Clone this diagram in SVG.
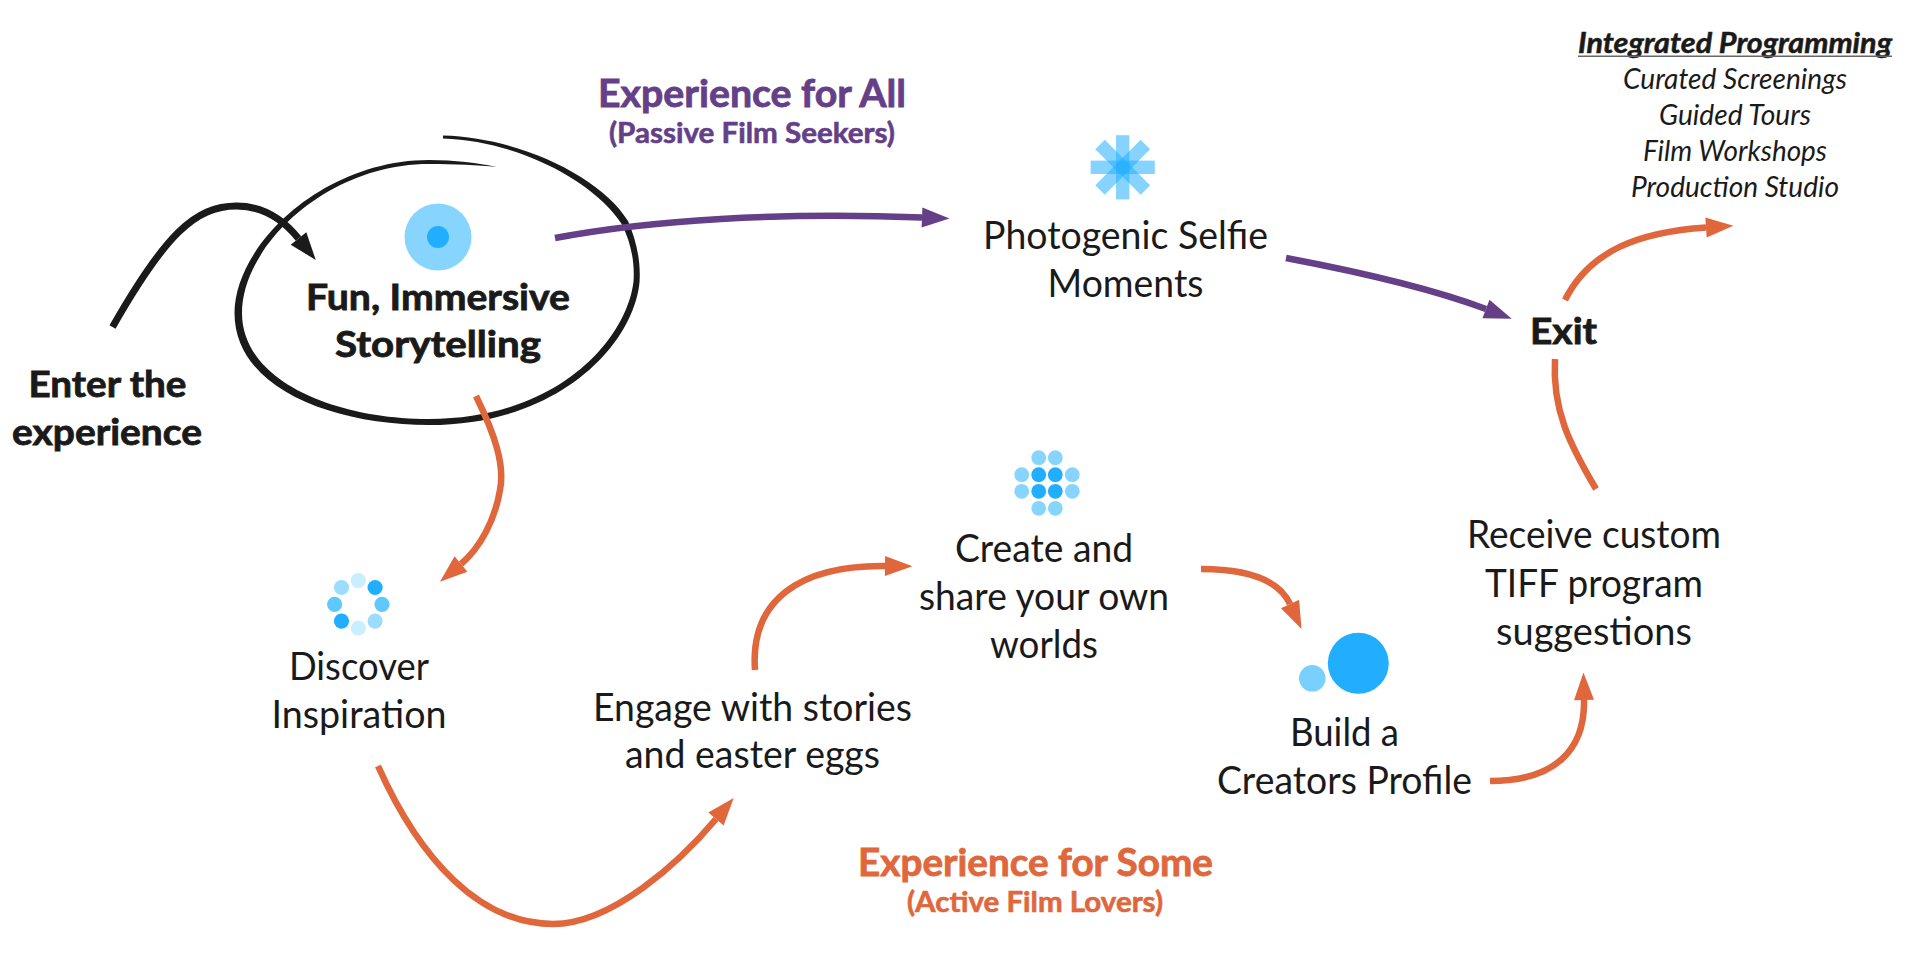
<svg xmlns="http://www.w3.org/2000/svg" width="1906" height="964" viewBox="0 0 1906 964">
<style>
text{font-family:"Lato","Noto Sans","Liberation Sans",sans-serif;text-anchor:middle;fill:#1a1a1a}
.b{font-size:38px}
.s{font-size:36px;font-weight:700;stroke:#1a1a1a;stroke-width:.8px}
.h{font-size:38px;font-weight:700;stroke-width:.8px}
.u{font-size:28px;font-weight:700;stroke-width:.6px}
.i{font-size:28px;font-style:italic}
.ib{font-size:28px;font-style:italic;font-weight:700;stroke:#1a1a1a;stroke-width:.5px}
.or{fill:#e0673c;stroke:#e0673c}
.pu{fill:#653f87;stroke:#653f87}
.c{fill:none;stroke-width:6.5}
.co{stroke:#e0673c}
.cp{stroke:#653f87}
.ck{stroke:#1a1a1a;stroke-width:7}
.l{fill:#87d5ff}
.d{fill:#22aeff}
</style>
<defs>
<marker id="ao" markerUnits="userSpaceOnUse" markerWidth="30" markerHeight="24" refX="0" refY="12" orient="auto" overflow="visible"><path d="M0,2 L27.5,12 L0,22 Z" fill="#e0673c"/></marker>
<marker id="ap" markerUnits="userSpaceOnUse" markerWidth="30" markerHeight="24" refX="0" refY="12" orient="auto" overflow="visible"><path d="M0,2 L27.5,12 L0,22 Z" fill="#653f87"/></marker>
<marker id="ak" markerUnits="userSpaceOnUse" markerWidth="30" markerHeight="24" refX="0" refY="12" orient="auto" overflow="visible"><path d="M0,2 L27.5,12 L0,22 Z" fill="#1a1a1a"/></marker>
</defs>
<rect width="1906" height="964" fill="#fff"/>
<g id="storytelling">
<path fill="#1a1a1a" d="M443,135.5 C520,137.5 601,177 628,221 C636,240 641,260 639.5,282.5 C633.5,343 561,425 429,425 C332,425 234.5,388 234.5,313 C235,244 324,160 429,160 C455,160 478,163 497,167 C478,165 455,164 429,164 C327,164 242,246 242,313 C242,382 337,419 429,419 C559,419 627,338 633.5,281.5 C635,260 630,241 622,224.5 C596,183 520,141 443,138.5 Z"/>
<ellipse class="l" cx="438" cy="237" rx="33.5" ry="33.5"/>
<circle class="d" cx="438" cy="237" r="11"/>
<text class="s" x="438" y="310" textLength="264" lengthAdjust="spacingAndGlyphs">Fun, Immersive</text>
<text class="s" x="438" y="357" textLength="206" lengthAdjust="spacingAndGlyphs">Storytelling</text>
</g>
<g id="connectors">
<path class="c ck" marker-end="url(#ak)" d="M112.5,327 C165,235 195,206 236.6,206 C262,206 282,218 298.5,238.5"/>
<path class="c cp" marker-end="url(#ap)" d="M555,238 C650,220 780,212 922,217.5"/>
<path class="c cp" marker-end="url(#ap)" d="M1286,258 C1360,272 1430,288 1486,309"/>
<path class="c co" marker-end="url(#ao)" d="M476,396 C495,435 505,465 500,490 C495,520 480,548 461,564"/>
<path class="c co" marker-end="url(#ao)" d="M378,766 C420,860 480,924 553,924 C612,924 680,862 716,819"/>
<path class="c co" marker-end="url(#ao)" d="M755,670 C750,600 800,565 885,566"/>
<path class="c co" marker-end="url(#ao)" d="M1201,569 C1245,569 1278,578 1290,604"/>
<path class="c co" marker-end="url(#ao)" d="M1490,781 C1555,781 1585,750 1584,700"/>
<path class="c co" d="M1596,489 C1570,445 1552,410 1555,359"/>
<path class="c co" marker-end="url(#ao)" d="M1565,300 C1590,250 1640,232 1706,227.5"/>
</g>
<g id="enter">
<text class="s" x="107.5" y="397" textLength="158" lengthAdjust="spacingAndGlyphs">Enter the</text>
<text class="s" x="107" y="445" textLength="190" lengthAdjust="spacingAndGlyphs">experience</text>
</g>
<g id="experience-all">
<text class="h pu" x="752" y="107" textLength="308" lengthAdjust="spacingAndGlyphs">Experience for All</text>
<text class="u pu" x="752" y="143" textLength="286" lengthAdjust="spacingAndGlyphs">(Passive Film Seekers)</text>
</g>
<g id="selfie">
<g fill="#22aeff" fill-opacity=".55">
<rect x="1116" y="135.2" width="13.4" height="64.2"/>
<rect x="1116" y="135.2" width="13.4" height="64.2" transform="rotate(45 1122.7 167.3)"/>
<rect x="1116" y="135.2" width="13.4" height="64.2" transform="rotate(90 1122.7 167.3)"/>
<rect x="1116" y="135.2" width="13.4" height="64.2" transform="rotate(135 1122.7 167.3)"/>
</g>
<text class="b" x="1125.5" y="249" textLength="285" lengthAdjust="spacingAndGlyphs">Photogenic Selfie</text>
<text class="b" x="1125.5" y="297" textLength="156" lengthAdjust="spacingAndGlyphs">Moments</text>
</g>
<g id="exit">
<text class="s" x="1563.5" y="344" textLength="67" lengthAdjust="spacingAndGlyphs">Exit</text>
</g>
<g id="programming">
<text class="ib" x="1735" y="52.5" textLength="314" lengthAdjust="spacingAndGlyphs">Integrated Programming</text>
<line x1="1578" y1="56.3" x2="1892" y2="56.3" stroke="#666" stroke-width="1.5"/>
<text class="i" x="1735" y="89" textLength="224" lengthAdjust="spacingAndGlyphs">Curated Screenings</text>
<text class="i" x="1735" y="125" textLength="152" lengthAdjust="spacingAndGlyphs">Guided Tours</text>
<text class="i" x="1735" y="161" textLength="184" lengthAdjust="spacingAndGlyphs">Film Workshops</text>
<text class="i" x="1735" y="197" textLength="208" lengthAdjust="spacingAndGlyphs">Production Studio</text>
</g>
<g id="discover">
<g>
<circle cx="358.3" cy="580.6" r="7.6" fill="#c9eeff"/>
<circle cx="375.1" cy="587.5" r="7.6" class="d"/>
<circle cx="382" cy="604.3" r="7.6" fill="#5fc8ff"/>
<circle cx="375.1" cy="621.1" r="7.6" fill="#9cddff"/>
<circle cx="358.3" cy="628" r="7.6" fill="#c9eeff"/>
<circle cx="341.5" cy="621.1" r="7.6" class="d"/>
<circle cx="334.6" cy="604.3" r="7.6" fill="#5fc8ff"/>
<circle cx="341.5" cy="587.5" r="7.6" fill="#9cddff"/>
</g>
<text class="b" x="359" y="680" textLength="140" lengthAdjust="spacingAndGlyphs">Discover</text>
<text class="b" x="359" y="728" textLength="175" lengthAdjust="spacingAndGlyphs">Inspiration</text>
</g>
<g id="engage">
<text class="b" x="752.5" y="721" textLength="319" lengthAdjust="spacingAndGlyphs">Engage with stories</text>
<text class="b" x="752.5" y="768" textLength="255" lengthAdjust="spacingAndGlyphs">and easter eggs</text>
</g>
<g id="create">
<g class="l">
<circle cx="1038.7" cy="457.7" r="7.4"/><circle cx="1055.3" cy="457.7" r="7.4"/>
<circle cx="1021.7" cy="474.7" r="7.4"/><circle cx="1072.3" cy="474.7" r="7.4"/>
<circle cx="1021.7" cy="491.3" r="7.4"/><circle cx="1072.3" cy="491.3" r="7.4"/>
<circle cx="1038.7" cy="508.3" r="7.4"/><circle cx="1055.3" cy="508.3" r="7.4"/>
</g>
<g class="d">
<circle cx="1038.7" cy="474.7" r="7.4"/><circle cx="1055.3" cy="474.7" r="7.4"/>
<circle cx="1038.7" cy="491.3" r="7.4"/><circle cx="1055.3" cy="491.3" r="7.4"/>
</g>
<text class="b" x="1044" y="562" textLength="178" lengthAdjust="spacingAndGlyphs">Create and</text>
<text class="b" x="1044" y="610" textLength="250" lengthAdjust="spacingAndGlyphs">share your own</text>
<text class="b" x="1044" y="658" textLength="108" lengthAdjust="spacingAndGlyphs">worlds</text>
</g>
<g id="profile">
<circle class="d" cx="1358.3" cy="663.3" r="30.5"/>
<circle cx="1312.3" cy="678.3" r="13.3" fill="#79d0ff"/>
<text class="b" x="1344.5" y="746" textLength="109" lengthAdjust="spacingAndGlyphs">Build a</text>
<text class="b" x="1344.5" y="794" textLength="255" lengthAdjust="spacingAndGlyphs">Creators Profile</text>
</g>
<g id="receive">
<text class="b" x="1594" y="548" textLength="254" lengthAdjust="spacingAndGlyphs">Receive custom</text>
<text class="b" x="1594" y="597" textLength="218" lengthAdjust="spacingAndGlyphs">TIFF program</text>
<text class="b" x="1594" y="645" textLength="196" lengthAdjust="spacingAndGlyphs">suggestions</text>
</g>
<g id="experience-some">
<text class="h or" x="1035.5" y="876" textLength="355" lengthAdjust="spacingAndGlyphs">Experience for Some</text>
<text class="u or" x="1035" y="912" textLength="256" lengthAdjust="spacingAndGlyphs">(Active Film Lovers)</text>
</g>
</svg>
